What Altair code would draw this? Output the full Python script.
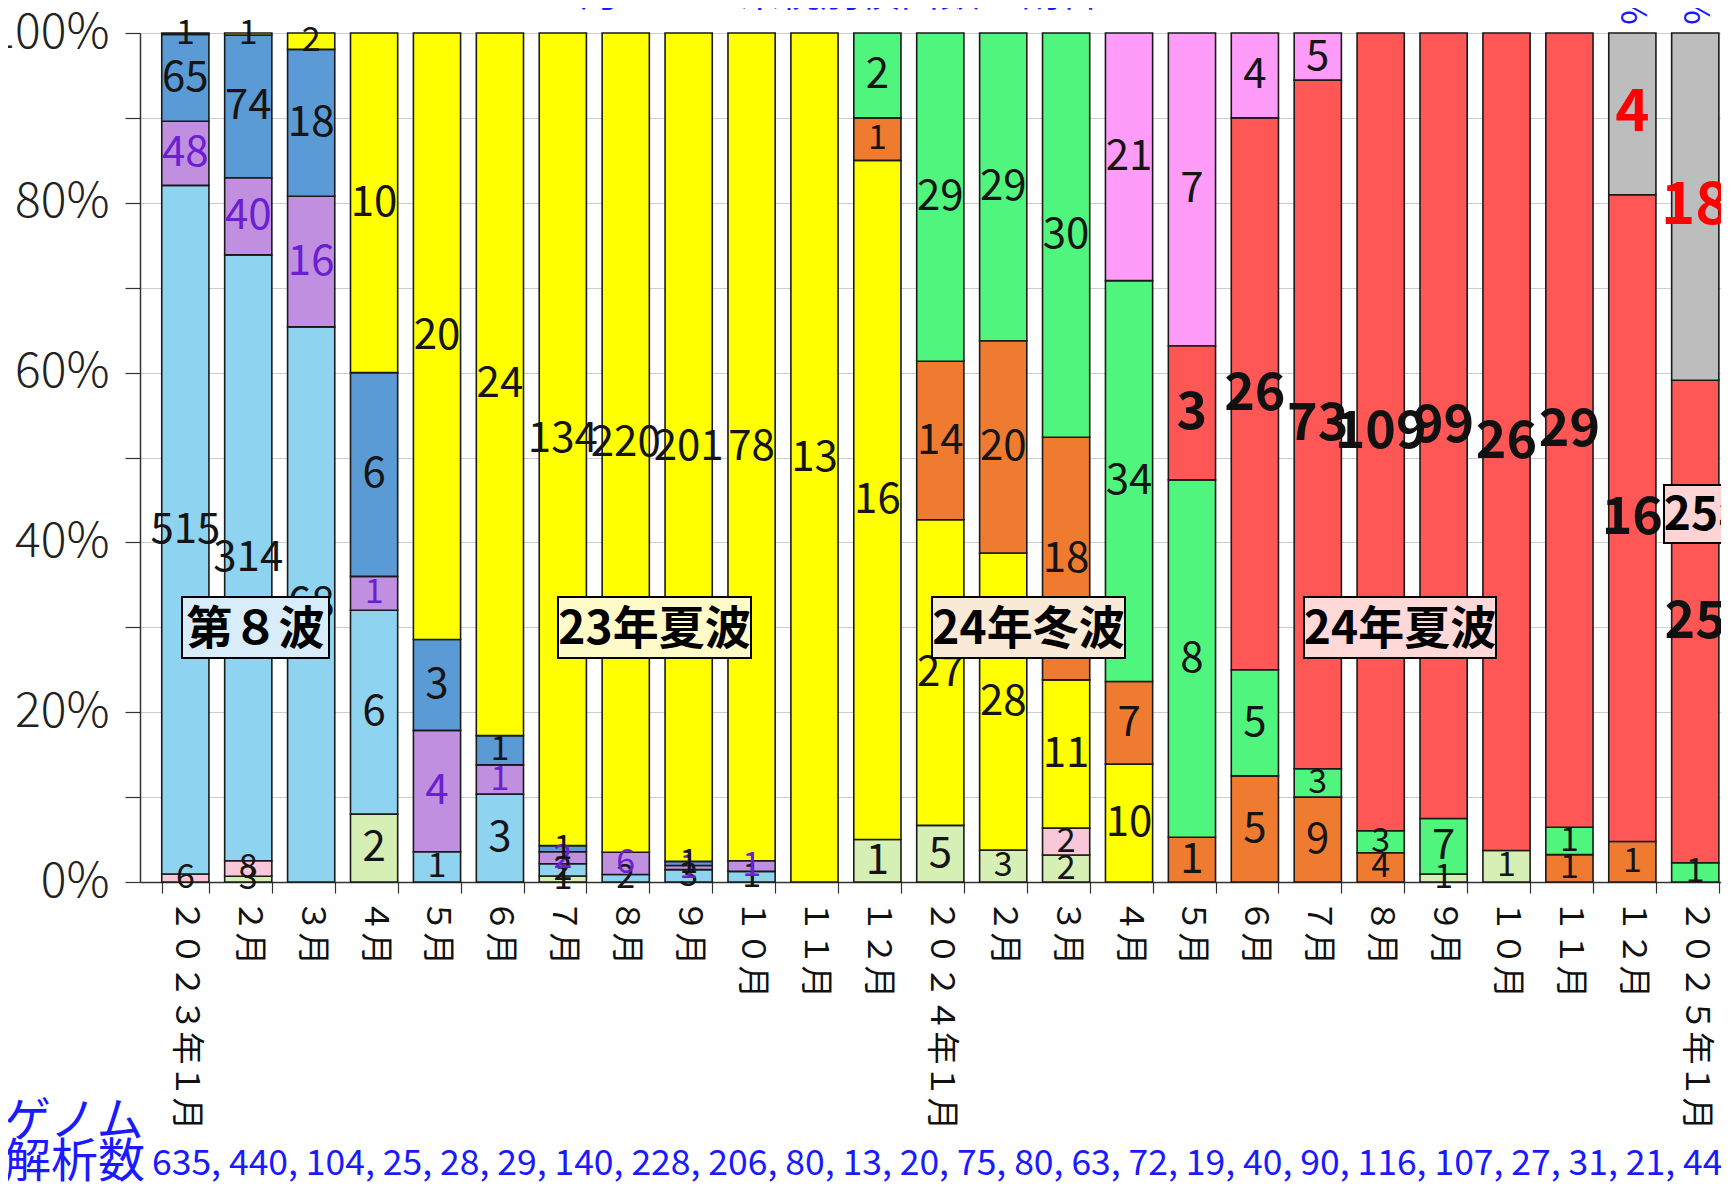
import altair as alt
import pandas as pd

# ---------------- data ----------------
month_keys = ["2023-01", "2023-02", "2023-03", "2023-04", "2023-05", "2023-06",
              "2023-07", "2023-08", "2023-09", "2023-10", "2023-11", "2023-12",
              "2024-01", "2024-02", "2024-03", "2024-04", "2024-05", "2024-06",
              "2024-07", "2024-08", "2024-09", "2024-10", "2024-11", "2024-12",
              "2025-01"]
month_labels = ["２０２３年１月", "２月", "３月", "４月", "５月", "６月", "７月", "８月",
                "９月", "１０月", "１１月", "１２月", "２０２４年１月", "２月", "３月", "４月",
                "５月", "６月", "７月", "８月", "９月", "１０月", "１１月", "１２月",
                "２０２５年１月"]

# series in stacking order (bottom -> top)
series_names = ["その他", "BA.2系統", "BA.5系統", "BA.2.75系統", "BQ.1系統", "XBB系統",
                "BA.2.86系統", "JN.1系統", "KP.3系統", "KP.2系統", "XEC系統"]
series_colors = ["#d6efb4", "#f9c8d8", "#8ed3ef", "#c18fe0", "#5a9bd6", "#ffff00",
                 "#ef7b30", "#4ff57d", "#ff5656", "#ff9cf9", "#bdbdbd"]

other    = [0, 3, 0, 2, 0, 0, 1, 0, 0, 0, 0, 1, 5, 3, 2, 0, 0, 0, 0, 0, 1, 1, 0, 0, 0]
ba2      = [6, 8, 0, 0, 0, 0, 0, 0, 0, 0, 0, 0, 0, 0, 2, 0, 0, 0, 0, 0, 0, 0, 0, 0, 0]
ba5      = [515, 314, 68, 6, 1, 3, 2, 2, 3, 1, 0, 0, 0, 0, 0, 0, 0, 0, 0, 0, 0, 0, 0, 0, 0]
ba275    = [48, 40, 16, 1, 4, 1, 2, 6, 1, 1, 0, 0, 0, 0, 0, 0, 0, 0, 0, 0, 0, 0, 0, 0, 0]
bq1      = [65, 74, 18, 6, 3, 1, 1, 0, 1, 0, 0, 0, 0, 0, 0, 0, 0, 0, 0, 0, 0, 0, 0, 0, 0]
xbb      = [1, 1, 2, 10, 20, 24, 134, 220, 201, 78, 13, 16, 27, 28, 11, 10, 0, 0, 0, 0, 0, 0, 0, 0, 0]
ba286    = [0, 0, 0, 0, 0, 0, 0, 0, 0, 0, 0, 1, 14, 20, 18, 7, 1, 5, 9, 4, 0, 0, 1, 1, 0]
jn1      = [0, 0, 0, 0, 0, 0, 0, 0, 0, 0, 0, 2, 29, 29, 30, 34, 8, 5, 3, 3, 7, 0, 1, 0, 1]
kp3      = [0, 0, 0, 0, 0, 0, 0, 0, 0, 0, 0, 0, 0, 0, 0, 0, 3, 26, 73, 109, 99, 26, 29, 16, 25]
kp2      = [0, 0, 0, 0, 0, 0, 0, 0, 0, 0, 0, 0, 0, 0, 0, 21, 7, 4, 5, 0, 0, 0, 0, 0, 0]
xec      = [0, 0, 0, 0, 0, 0, 0, 0, 0, 0, 0, 0, 0, 0, 0, 0, 0, 0, 0, 0, 0, 0, 0, 4, 18]

series_values = [other, ba2, ba5, ba275, bq1, xbb, ba286, jn1, kp3, kp2, xec]

wave_labels = ["第８波", "23年夏波", "24年冬波", "24年夏波", "25年冬波"]
wave_fills = ["#d8ecf9", "#fffbc8", "#f8ead6", "#ffd8d8", "#ffd4d4"]

rows = []
for si, (name, vals) in enumerate(zip(series_names, series_values)):
    for mi, v in enumerate(vals):
        if v > 0:
            rows.append({"month": month_keys[mi], "series": name, "order": si, "count": v})
df = pd.DataFrame(rows)

totals = [sum(s[i] for s in series_values) for i in range(len(month_keys))]
count_text = ", ".join(str(t) for t in totals)

FONT = "Noto Sans CJK JP"

label_expr = "[" + ",".join("'%s'" % l for l in month_labels) + "][indexof([" + \
    ",".join("'%s'" % k for k in month_keys) + "], datum.value)]"

xscale = alt.Scale(domain=month_keys, paddingInner=0.25, paddingOuter=0.19, align=0.91)
yscale = alt.Scale(domain=[0, 1])

xaxis = alt.Axis(title=None, labelAngle=90, labelAlign="left", labelBaseline="middle",
                 labelFontSize=33, labelFont=FONT, labelColor="#111111", labelPadding=6,
                 labelLimit=500,
                 tickSize=11, tickBand="extent", tickColor="#333333", tickWidth=1.2,
                 domainColor="#333333", domainWidth=1.5, grid=False,
                 labelOverlap=False, labelBound=False, labelFlush=False, labelExpr=label_expr)
yaxis = alt.Axis(title=None, values=[i / 10 for i in range(11)],
                 labelExpr="round(datum.value*10) % 2 == 0 ? format(datum.value, '.0%') : ''",
                 labelFontSize=48, labelFont=FONT, labelFontWeight=300, labelColor="#222222",
                 labelPadding=16, tickSize=15, tickColor="#333333", tickWidth=1.2,
                 domainColor="#333333", domainWidth=1.5, gridColor="#cccccc", gridWidth=1)

base = alt.Chart(df).transform_stack(
    stack="count", groupby=["month"], as_=["y0", "y1"], offset="normalize",
    sort=[alt.SortField("order", "ascending")]
).transform_calculate(
    mid="(datum.y0 + datum.y1) / 2",
    share="datum.y1 - datum.y0",
)

bars = base.mark_bar(stroke="#1a1a1a", strokeWidth=1.6).encode(
    x=alt.X("month:N", scale=xscale, axis=xaxis),
    y=alt.Y("y1:Q", scale=yscale, axis=yaxis),
    y2="y0",
    color=alt.Color("series:N", scale=alt.Scale(domain=series_names, range=series_colors),
                    legend=None),
)

normal_labels = base.transform_filter(
    "datum.series != 'KP.3系統' && datum.series != 'XEC系統'"
).transform_calculate(
    fs="datum.share < 0.05 ? 34 : 42",
    tc="datum.series == 'BA.2.75系統' ? '#6b1fd1' : '#151515'",
).mark_text(font=FONT, baseline="middle", align="center").encode(
    x=alt.X("month:N", scale=xscale),
    y=alt.Y("mid:Q", scale=yscale),
    text="count:Q",
    size=alt.Size("fs:Q", scale=None),
    color=alt.Color("tc:N", scale=None),
)

bold_labels = base.transform_filter(
    "datum.series == 'KP.3系統' || datum.series == 'XEC系統'"
).transform_calculate(
    fs="datum.series == 'XEC系統' ? 58 : 52",
    tc="datum.series == 'XEC系統' ? '#ff0000' : '#111111'",
).mark_text(font=FONT, fontWeight="bold", baseline="middle", align="center").encode(
    x=alt.X("month:N", scale=xscale),
    y=alt.Y("mid:Q", scale=yscale),
    text="count:Q",
    size=alt.Size("fs:Q", scale=None),
    color=alt.Color("tc:N", scale=None),
)

pct_labels = base.transform_filter("datum.series == 'XEC系統'").transform_calculate(
    pct="format(datum.share, '.0%')"
).mark_text(font=FONT, fontSize=36, angle=90, align="right", baseline="middle",
            color="#1a1aff").encode(
    x=alt.X("month:N", scale=xscale),
    y=alt.value(-8),
    text="pct:N",
)

one = alt.Data(values=[{"a": 1}])


def wave_box(text, fill, x1, x2, y1, y2):
    rect = alt.Chart(one).mark_rect(fill=fill, stroke="#000000", strokeWidth=2).encode(
        x=alt.value(x1), x2=alt.value(x2), y=alt.value(y1), y2=alt.value(y2))
    label = alt.Chart(one).mark_text(text=text, font=FONT, fontSize=46, fontWeight="bold",
                                     color="#000000", align="center", baseline="middle").encode(
        x=alt.value((x1 + x2) / 2), y=alt.value((y1 + y2) / 2 + 2))
    return [rect, label]


boxes = []
boxes += wave_box(wave_labels[0], wave_fills[0], 42, 189, 564, 625)
boxes += wave_box(wave_labels[1], wave_fills[1], 418, 611, 564, 625)
boxes += wave_box(wave_labels[2], wave_fills[2], 792, 985, 564, 625)
boxes += wave_box(wave_labels[3], wave_fills[3], 1164, 1356, 564, 625)
boxes += wave_box(wave_labels[4], wave_fills[4], 1524, 1716, 452, 510)

title_txt = alt.Chart(one).mark_text(
    text="月ごとの系統別検出数の割合", font=FONT, fontSize=40, color="#1a1aff",
    align="center", baseline="bottom").encode(x=alt.value(700), y=alt.value(-19))

genome1 = alt.Chart(one).mark_text(
    text="ゲノム", font=FONT, fontSize=47, color="#1a1aff", align="left",
    baseline="alphabetic").encode(x=alt.value(-136), y=alt.value(1103))
genome2 = alt.Chart(one).mark_text(
    text="解析数", font=FONT, fontSize=47, color="#1a1aff", align="left",
    baseline="alphabetic").encode(x=alt.value(-136), y=alt.value(1144))
counts = alt.Chart(one).mark_text(
    text=count_text, font=FONT, fontSize=35.5, color="#1a1aff", align="left",
    baseline="alphabetic").encode(x=alt.value(12), y=alt.value(1142))

chart = alt.layer(
    bars, normal_labels, bold_labels, pct_labels, *boxes, title_txt, genome1, genome2, counts
).properties(
    width=1581, height=849,
    padding={"left": 132, "top": 25, "right": 0, "bottom": 300},
    autosize=alt.AutoSizeParams(type="none"),
).configure_view(stroke=None).configure(background="#ffffff")

chart.save("out.html", embed_options={"renderer": "svg", "actions": False})
